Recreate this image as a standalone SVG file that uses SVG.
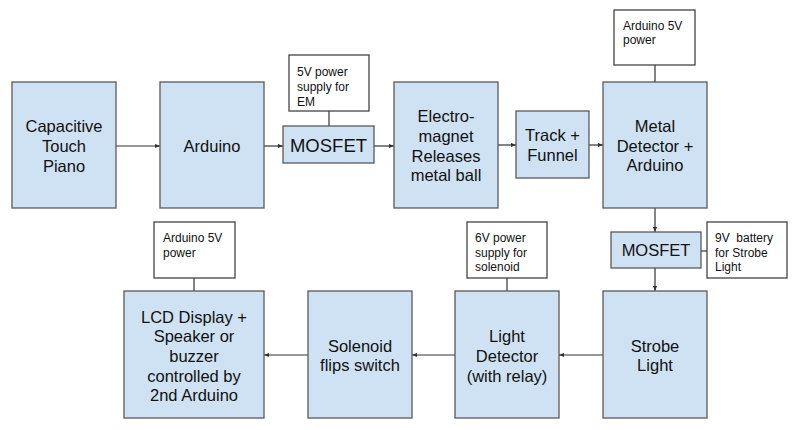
<svg xmlns="http://www.w3.org/2000/svg" width="797" height="430" viewBox="0 0 797 430">
<style>
.b{fill:#cfe2f3;stroke:#595959;stroke-width:1.3}
.w{fill:#ffffff;stroke:#444444;stroke-width:1.3}
.t{font-family:"Liberation Sans",Arial,sans-serif;font-size:16.5px;fill:#111;text-anchor:middle}
.s{font-family:"Liberation Sans",Arial,sans-serif;font-size:12px;fill:#111}
.c{stroke:#333;stroke-width:1.2;fill:none}
</style>
<defs>
<marker id="ah" viewBox="0 0 6 6" refX="6" refY="3" markerWidth="5" markerHeight="5" orient="auto" markerUnits="userSpaceOnUse">
<path d="M0,0.5 L6,3 L0,5.5 z" fill="#333"/>
</marker>
</defs>
<rect width="797" height="430" fill="#fff"/>
<g id="connectors">
<line class="c" x1="116" y1="146" x2="160" y2="146" marker-end="url(#ah)"/>
<line class="c" x1="264" y1="146" x2="283" y2="146" marker-end="url(#ah)"/>
<line class="c" x1="374" y1="146" x2="394" y2="146" marker-end="url(#ah)"/>
<line class="c" x1="498" y1="145" x2="516" y2="145" marker-end="url(#ah)"/>
<line class="c" x1="589" y1="145" x2="603" y2="145" marker-end="url(#ah)"/>
<line class="c" x1="329" y1="111" x2="329" y2="126"/>
<line class="c" x1="655" y1="65" x2="655" y2="82"/>
<line class="c" x1="655" y1="208" x2="655" y2="232" marker-end="url(#ah)"/>
<line class="c" x1="655" y1="268" x2="655" y2="291" marker-end="url(#ah)"/>
<line class="c" x1="701" y1="251" x2="707" y2="251"/>
<line class="c" x1="603" y1="355" x2="559" y2="355" marker-end="url(#ah)"/>
<line class="c" x1="455" y1="355" x2="412" y2="355" marker-end="url(#ah)"/>
<line class="c" x1="308" y1="355" x2="264" y2="355" marker-end="url(#ah)"/>
<line class="c" x1="507" y1="278" x2="507" y2="291"/>
<line class="c" x1="194" y1="278" x2="194" y2="291"/>
</g>
<g id="piano">
<rect class="b" x="12" y="82" width="104" height="126"/>
<text class="t" x="64" y="132">Capacitive</text>
<text class="t" x="64" y="152">Touch</text>
<text class="t" x="64" y="172">Piano</text>
</g>
<g id="arduino">
<rect class="b" x="160" y="82" width="104" height="126"/>
<text class="t" x="212" y="152">Arduino</text>
</g>
<g id="mosfet1">
<rect class="b" x="283" y="126" width="91" height="37"/>
<text class="t" x="328.5" y="152" style="font-size:18.5px">MOSFET</text>
</g>
<g id="psu5v">
<rect class="w" x="289" y="55" width="80" height="56"/>
<text class="s" x="297" y="76">5V power</text>
<text class="s" x="297" y="91">supply for</text>
<text class="s" x="297" y="106">EM</text>
</g>
<g id="electromagnet">
<rect class="b" x="394" y="82" width="104" height="126"/>
<text class="t" x="446" y="122">Electro-</text>
<text class="t" x="446" y="142">magnet</text>
<text class="t" x="446" y="162">Releases</text>
<text class="t" x="446" y="181">metal ball</text>
</g>
<g id="track">
<rect class="b" x="516" y="111" width="73" height="67"/>
<text class="t" x="552.5" y="141">Track +</text>
<text class="t" x="552.5" y="161">Funnel</text>
</g>
<g id="metaldetector">
<rect class="b" x="603" y="82" width="104" height="126"/>
<text class="t" x="655" y="132">Metal</text>
<text class="t" x="655" y="152">Detector +</text>
<text class="t" x="655" y="171">Arduino</text>
</g>
<g id="arduinopower1">
<rect class="w" x="614" y="10" width="81" height="55"/>
<text class="s" x="623" y="30">Arduino 5V</text>
<text class="s" x="623" y="44">power</text>
</g>
<g id="mosfet2">
<rect class="b" x="611" y="232" width="90" height="36"/>
<text class="t" x="656" y="256">MOSFET</text>
</g>
<g id="battery9v">
<rect class="w" x="707" y="222" width="80" height="56"/>
<text class="s" x="715" y="242" xml:space="preserve">9V  battery</text>
<text class="s" x="715" y="257">for Strobe</text>
<text class="s" x="715" y="271">Light</text>
</g>
<g id="strobe">
<rect class="b" x="603" y="291" width="104" height="127"/>
<text class="t" x="655" y="352">Strobe</text>
<text class="t" x="655" y="371">Light</text>
</g>
<g id="lightdetector">
<rect class="b" x="455" y="291" width="104" height="127"/>
<text class="t" x="507" y="342">Light</text>
<text class="t" x="507" y="362">Detector</text>
<text class="t" x="507" y="382">(with relay)</text>
</g>
<g id="psu6v">
<rect class="w" x="467" y="222" width="80" height="56"/>
<text class="s" x="475" y="242">6V power</text>
<text class="s" x="475" y="257">supply for</text>
<text class="s" x="475" y="271">solenoid</text>
</g>
<g id="solenoid">
<rect class="b" x="308" y="291" width="104" height="127"/>
<text class="t" x="360" y="352">Solenoid</text>
<text class="t" x="360" y="371">flips switch</text>
</g>
<g id="lcd">
<rect class="b" x="124" y="291" width="140" height="127"/>
<text class="t" x="194" y="323">LCD Display +</text>
<text class="t" x="194" y="342">Speaker or</text>
<text class="t" x="194" y="362">buzzer</text>
<text class="t" x="194" y="382">controlled by</text>
<text class="t" x="194" y="401">2nd Arduino</text>
</g>
<g id="arduinopower2">
<rect class="w" x="154" y="222" width="81" height="56"/>
<text class="s" x="163" y="242">Arduino 5V</text>
<text class="s" x="163" y="257">power</text>
</g>
</svg>
